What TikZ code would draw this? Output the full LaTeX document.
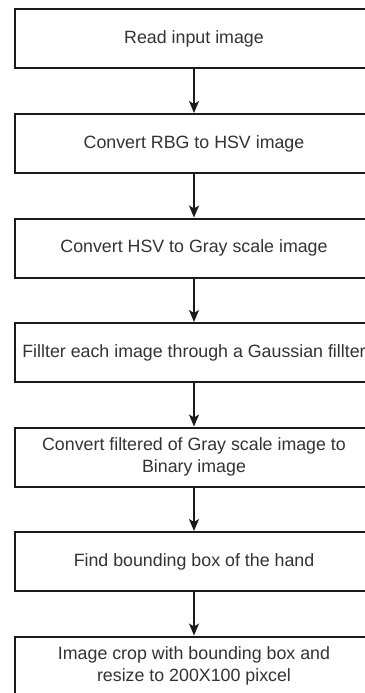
\documentclass[tikz,border=0pt]{standalone}
\usepackage{fontspec}
\setmainfont{Liberation Sans}
\usetikzlibrary{arrows.meta}
\definecolor{boxline}{HTML}{1A1A1A}
\definecolor{txt}{HTML}{333333}
\tikzset{
  stepbox/.style={draw=boxline, line width=2pt, fill=white, rectangle,
    minimum width=359pt, minimum height=59pt, inner sep=0pt,
    align=center, text=txt, font=\fontsize{17.8}{21.4}\selectfont},
  flowarrow/.style={draw=boxline, line width=1.4pt,
    -{Stealth[length=12pt, width=10pt, inset=3pt]}}
}
\begin{document}
\begin{tikzpicture}[x=1pt, y=-1pt]
  \useasboundingbox (0,0) rectangle (364,693);
  \node[stepbox] (b1) at (194,39)    {Read input image};
  \node[stepbox] (b2) at (194,143.5) {Convert RBG to HSV image};
  \node[stepbox] (b3) at (194,248)   {Convert HSV to Gray scale image};
  \node[stepbox] (b4) at (194,352.5) {Fillter each image through a Gaussian fillter};
  \node[stepbox] (b5) at (194,457)   {Convert filtered of Gray scale image to\\Binary image};
  \node[stepbox] (b6) at (194,561.5) {Find bounding box of the hand};
  \node[stepbox] (b7) at (194,666)   {Image crop with bounding box and\\resize to 200X100 pixcel};
  \foreach \a/\b in {b1/b2,b2/b3,b3/b4,b4/b5,b5/b6,b6/b7}
    \draw[flowarrow] (\a.south) -- (\b.north);
\end{tikzpicture}
\end{document}
